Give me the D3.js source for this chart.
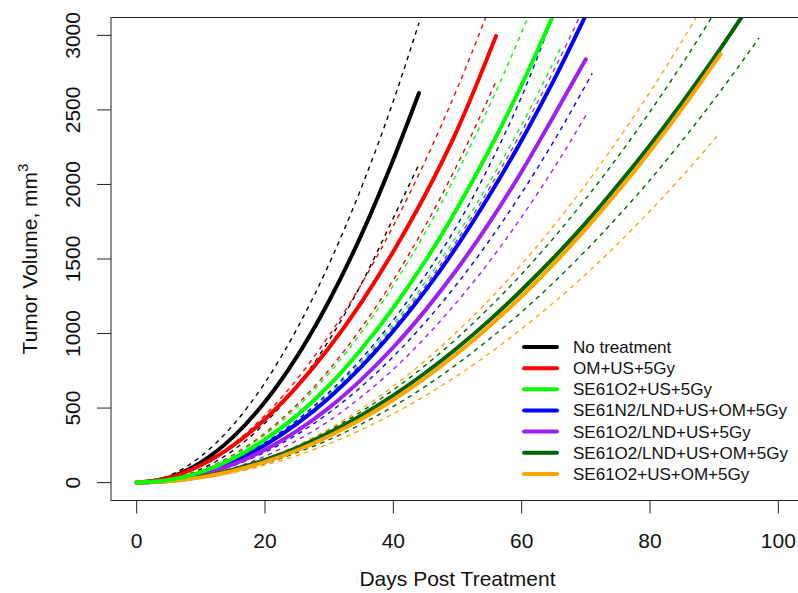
<!DOCTYPE html>
<html>
<head>
<meta charset="utf-8">
<script src="https://cdn.jsdelivr.net/npm/d3@7"></script>
<style>
  body { margin: 0; background: #fff; }
  svg { font-family: "Liberation Sans", Arial, sans-serif; }
</style>
</head>
<body>
<svg width="798" height="593"></svg>
<script>
// group names and colours (legend order)
const groups = ["No treatment", "OM+US+5Gy", "SE61O2+US+5Gy", "SE61N2/LND+US+OM+5Gy",
  "SE61O2/LND+US+5Gy", "SE61O2/LND+US+OM+5Gy", "SE61O2+US+OM+5Gy"];
const colors = ["black", "red", "#00ff00", "blue", "#a020f0", "#006400", "orange"];

// [day, volume]: fit, upper and lower band
const noTxFit = [[0,0],[5,34],[10,136],[15,305],[20,542],[25,847],[30,1220],[35,1660],[40,2168],[44,2613]];
const noTxHi  = [[0,0],[5,46],[10,176],[15,385],[20,671],[25,1033],[30,1468],[35,1977],[40,2559],[44,3085]];
const noTxLo  = [[0,0],[5,20],[10,90],[15,215],[20,400],[25,646],[30,956],[35,1332],[40,1775],[44,2135]];

const omFit = [[0,0],[5,32],[10,116],[15,248],[20,425],[25,645],[30,906],[35,1208],[40,1551],[45,1934],[50,2370],[56,2995]];
const omHi  = [[0,0],[5,34],[10,124],[15,259],[20,452],[25,695],[30,988],[35,1330],[40,1722],[45,2161],[50,2648],[56,3298]];
const omLo  = [[0,0],[5,20],[10,81],[15,185],[20,333],[25,523],[30,757],[35,1037],[40,1359],[45,1724],[50,2136],[56,2690]];

const o2Fit = [[0,0],[5,17],[10,70],[15,160],[20,290],[25,451],[30,653],[35,895],[40,1173],[45,1488],[50,1844],[55,2236],[60,2668],[66,3241]];
const o2Hi  = [[0,0],[5,19],[10,78],[15,179],[20,322],[25,507],[30,735],[35,1007],[40,1323],[45,1680],[50,2084],[55,2530],[60,3021],[66,3675]];
const o2Lo  = [[0,0],[5,16],[10,65],[15,147],[20,264],[25,413],[30,595],[35,812],[40,1063],[45,1346],[50,1663],[55,2016],[60,2400],[66,2908]];

const n2Fit = [[0,0],[5,16],[10,63],[15,141],[20,252],[25,395],[30,570],[35,777],[40,1017],[45,1288],[50,1591],[55,1929],[60,2297],[65,2698],[71,3226]];
const n2Hi  = [[0,0],[5,17],[10,67],[15,150],[20,268],[25,420],[30,607],[35,830],[40,1090],[45,1390],[50,1730],[55,2130],[60,2590],[65,3140],[71,3830]];
const n2Lo  = [[0,0],[5,12],[10,49],[15,113],[20,204],[25,323],[30,469],[35,643],[40,846],[45,1077],[50,1337],[55,1626],[60,1943],[65,2290],[71,2745]];

const lndFit = [[0,0],[5,13],[10,53],[15,122],[20,220],[25,347],[30,503],[35,691],[40,908],[45,1157],[50,1436],[55,1746],[60,2087],[65,2460],[70,2840]];
const lndHi  = [[0,0],[5,16],[10,65],[15,145],[20,258],[25,405],[30,584],[35,796],[40,1042],[45,1320],[50,1631],[55,1977],[60,2354],[65,2765],[70,3212]];
const lndLo  = [[0,0],[5,10],[10,41],[15,97],[20,177],[25,284],[30,415],[35,575],[40,760],[45,975],[50,1216],[55,1484],[60,1783],[65,2108],[70,2463]];

const lndOmFit = [[0,0],[5,10],[10,39],[15,87],[20,152],[25,234],[30,334],[35,451],[40,585],[45,737],[50,905],[55,1090],[60,1292],[65,1509],[70,1742],[75,1996],[80,2263],[85,2548],[90,2850],[97,3299]];
const lndOmHi  = [[0,0],[5,10],[10,39],[15,87],[20,155],[25,243],[30,350],[35,476],[40,622],[45,787],[50,972],[55,1176],[60,1399],[65,1642],[70,1905],[75,2186],[80,2488],[85,2808],[90,3148],[97,3657]];
const lndOmLo  = [[0,0],[5,8],[10,32],[15,73],[20,129],[25,201],[30,288],[35,392],[40,511],[45,646],[50,797],[55,964],[60,1145],[65,1343],[70,1557],[75,1786],[80,2030],[85,2293],[90,2570],[97,2983]];

const o2OmFit = [[0,0],[5,9],[10,35],[15,78],[20,139],[25,217],[30,313],[35,425],[40,556],[45,703],[50,868],[55,1051],[60,1250],[65,1467],[70,1702],[75,1954],[80,2223],[85,2509],[91,2875]];
const o2OmHi  = [[0,0],[5,10],[10,39],[15,89],[20,159],[25,250],[30,361],[35,494],[40,646],[45,820],[50,1015],[55,1229],[60,1465],[65,1723],[70,2000],[75,2300],[80,2620],[85,2962],[91,3402]];
const o2OmLo  = [[0,0],[5,8],[10,30],[15,66],[20,117],[25,182],[30,261],[35,354],[40,462],[45,583],[50,718],[55,868],[60,1032],[65,1208],[70,1398],[75,1603],[80,1822],[85,2054],[90.4,2322]];

const xTicks = [0, 20, 40, 60, 80, 100];
const yTicks = [0, 500, 1000, 1500, 2000, 2500, 3000];

const fits  = [noTxFit, omFit, o2Fit, n2Fit, lndFit, lndOmFit, o2OmFit];
const highs = [noTxHi, omHi, o2Hi, n2Hi, lndHi, lndOmHi, o2OmHi];
const lows  = [noTxLo, omLo, o2Lo, n2Lo, lndLo, lndOmLo, o2OmLo];

const svg = d3.select("svg");
const pLeft = 111, pRight = 804, pTop = 17.5, pBottom = 500.5;

// R style axes: 4% padding around 0..100 and 0..3000
const x = d3.scaleLinear().domain([-4, 104]).range([pLeft, pRight]);
const y = d3.scaleLinear().domain([-120, 3120]).range([pBottom, pTop]);

svg.append("defs").append("clipPath").attr("id", "plotclip")
  .append("rect")
    .attr("x", pLeft).attr("y", pTop)
    .attr("width", pRight - pLeft).attr("height", pBottom - pTop);

const line = d3.line()
  .x(d => x(d[0]))
  .y(d => y(d[1]))
  .curve(d3.curveMonotoneX);

const plot = svg.append("g").attr("clip-path", "url(#plotclip)");

// dashed bands first
groups.forEach((g, i) => {
  [highs[i], lows[i]].forEach(s => {
    plot.append("path")
      .datum(s)
      .attr("d", line)
      .attr("fill", "none")
      .attr("stroke", colors[i])
      .attr("stroke-width", 1.4)
      .attr("stroke-dasharray", "4.5,4.5");
  });
});

// fitted curves, green drawn last
const order = [0, 1, 3, 4, 5, 6, 2];
order.forEach(i => {
  plot.append("path")
    .datum(fits[i])
    .attr("d", line)
    .attr("fill", "none")
    .attr("stroke", colors[i])
    .attr("stroke-width", 4)
    .attr("stroke-linecap", "round")
    .attr("stroke-linejoin", "round");
});

// box
svg.append("rect")
  .attr("x", pLeft).attr("y", pTop)
  .attr("width", pRight - pLeft).attr("height", pBottom - pTop)
  .attr("fill", "none")
  .attr("stroke", "#222")
  .attr("stroke-width", 1);

// x axis
const xa = svg.append("g");
xa.selectAll("line").data(xTicks).join("line")
  .attr("x1", d => x(d)).attr("x2", d => x(d))
  .attr("y1", pBottom).attr("y2", pBottom + 13)
  .attr("stroke", "#222");
xa.selectAll("text").data(xTicks).join("text")
  .attr("x", d => x(d)).attr("y", 548)
  .attr("text-anchor", "middle")
  .attr("font-size", 21)
  .attr("fill", "#111")
  .text(d => d);

// y axis
const ya = svg.append("g");
ya.selectAll("line").data(yTicks).join("line")
  .attr("x1", pLeft - 14).attr("x2", pLeft)
  .attr("y1", d => y(d)).attr("y2", d => y(d))
  .attr("stroke", "#222");
ya.selectAll("text").data(yTicks).join("text")
  .attr("transform", d => `translate(80,${y(d)}) rotate(-90)`)
  .attr("text-anchor", "middle")
  .attr("font-size", 21)
  .attr("fill", "#111")
  .text(d => d);

// axis titles
svg.append("text")
  .attr("x", (pLeft + pRight) / 2).attr("y", 586)
  .attr("text-anchor", "middle")
  .attr("font-size", 21)
  .attr("fill", "#111")
  .text("Days Post Treatment");

const yt = svg.append("text")
  .attr("transform", `translate(37,${(pTop + pBottom) / 2}) rotate(-90)`)
  .attr("text-anchor", "middle")
  .attr("font-size", 21)
  .attr("fill", "#111");
yt.append("tspan").text("Tumor Volume, mm");
yt.append("tspan").attr("font-size", 15).attr("dy", -9).text("3");

// legend
const leg = svg.append("g");
groups.forEach((g, i) => {
  const ly = 347 + i * 21.15;
  leg.append("line")
    .attr("x1", 524).attr("x2", 557)
    .attr("y1", ly).attr("y2", ly)
    .attr("stroke", colors[i])
    .attr("stroke-width", 4)
    .attr("stroke-linecap", "round");
  leg.append("text")
    .attr("x", 573).attr("y", ly + 6)
    .attr("font-size", 17)
    .attr("fill", "#111")
    .text(g);
});
</script>
</body>
</html>
